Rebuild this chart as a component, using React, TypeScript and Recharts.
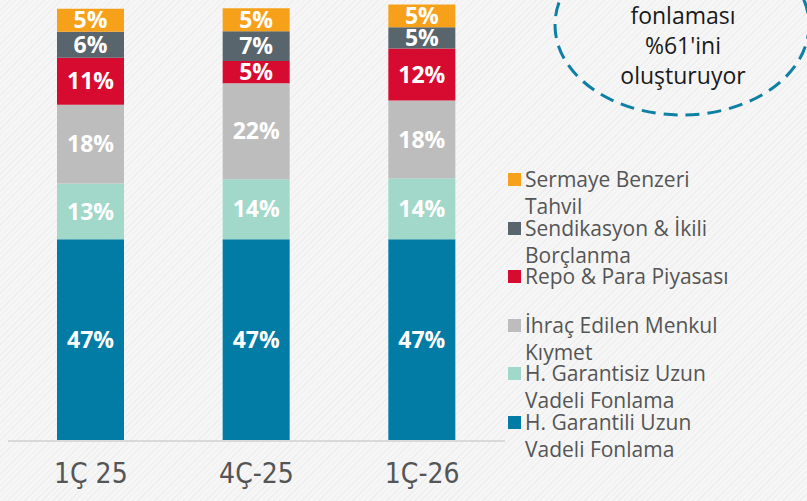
import { BarChart, Bar, XAxis, YAxis, LabelList } from "recharts";

const quarters = ["1Ç 25", "4Ç-25", "1Ç-26"];

// shares in %, bottom to top
const garantili = [46.6, 46.6, 46.6];
const garantisiz = [12.9, 13.9, 14.1];
const ihrac = [18.2, 22.2, 18.0];
const repo = [10.9, 5.1, 12.0];
const sendikasyon = [6.0, 6.9, 4.9];
const sermaye = [5.3, 5.3, 5.3];

const SERIES = [
  { key: "garantili", name: ["H. Garantili Uzun", "Vadeli Fonlama"], color: "#027ba5", values: garantili },
  { key: "garantisiz", name: ["H. Garantisiz Uzun", "Vadeli Fonlama"], color: "#a1d8ca", values: garantisiz },
  { key: "ihrac", name: ["İhraç Edilen Menkul", "Kıymet"], color: "#bdbdbd", values: ihrac },
  { key: "repo", name: ["Repo & Para Piyasası", ""], color: "#d60b2f", values: repo },
  { key: "sendikasyon", name: ["Sendikasyon & İkili", "Borçlanma"], color: "#58656c", values: sendikasyon },
  { key: "sermaye", name: ["Sermaye Benzeri", "Tahvil"], color: "#f7a11a", values: sermaye },
];

const calloutLines = ["fonlaması", "%61'ini", "oluşturuyor"];

const chartData = quarters.map((q, i) => {
  const row: Record<string, string | number> = { name: q };
  SERIES.forEach((s) => {
    row[s.key] = s.values[i];
  });
  return row;
});

const labelFont = "'Open Sans', 'Noto Sans', sans-serif";

function LegendBox() {
  const items = [...SERIES].reverse();
  return (
    <div style={{ position: "absolute", left: 508, top: 166, fontFamily: labelFont, fontSize: 21, color: "#555" }}>
      {items.map((s) => (
        <div key={s.key} style={{ position: "relative", height: 48.6 }}>
          <div style={{ position: "absolute", left: 0, top: 7, width: 13, height: 13, background: s.color }} />
          <div style={{ position: "absolute", left: 17, top: 3, lineHeight: "21px", whiteSpace: "nowrap" }}>
            {s.name[0]}
          </div>
          {s.name[1] && (
            <div style={{ position: "absolute", left: 17, top: 30, lineHeight: "21px", whiteSpace: "nowrap" }}>
              {s.name[1]}
            </div>
          )}
        </div>
      ))}
    </div>
  );
}

export default function App() {
  return (
    <div
      style={{
        position: "absolute",
        left: 0,
        top: 0,
        width: 807,
        height: 501,
        overflow: "hidden",
        background: "repeating-linear-gradient(135deg, #f6f6f6 0px, #f6f6f6 3px, #eeeeee 3px, #eeeeee 4px)",
      }}
    >
      <BarChart
        width={807}
        height={501}
        data={chartData}
        margin={{ top: 4, right: 302, left: 8, bottom: 0 }}
        barSize={67}
      >
        <YAxis hide domain={[0, 101]} allowDataOverflow />
        <XAxis
          dataKey="name"
          height={60}
          tickLine={false}
          axisLine={{ stroke: "#d9d9d9", strokeWidth: 2 }}
          tick={{ fill: "#555", fontSize: 28, fontFamily: "'Liberation Sans Narrow', 'DejaVu Sans Condensed', sans-serif" }}
          dy={14}
        />
        {SERIES.map((s) => (
          <Bar key={s.key} dataKey={s.key} stackId="a" fill={s.color} isAnimationActive={false}>
            <LabelList
              dataKey={s.key}
              position="center"
              formatter={(v: number) => `${Math.round(v)}%`}
              fill="#fff"
              style={{ fontFamily: labelFont, fontWeight: 700, fontSize: 23 }}
            />
          </Bar>
        ))}
      </BarChart>
      <LegendBox />
      <svg width={807} height={501} style={{ position: "absolute", left: 0, top: 0, pointerEvents: "none" }}>
        <ellipse cx={682} cy={25} rx={127} ry={90} fill="none" stroke="#0e7fa5" strokeWidth={3} strokeDasharray="14 8" />
        {calloutLines.map((t, i) => (
          <text key={t} x={683} y={24 + i * 30} textAnchor="middle" fontSize={23} fill="#1a1a1a" fontFamily={labelFont}>
            {t}
          </text>
        ))}
      </svg>
    </div>
  );
}
